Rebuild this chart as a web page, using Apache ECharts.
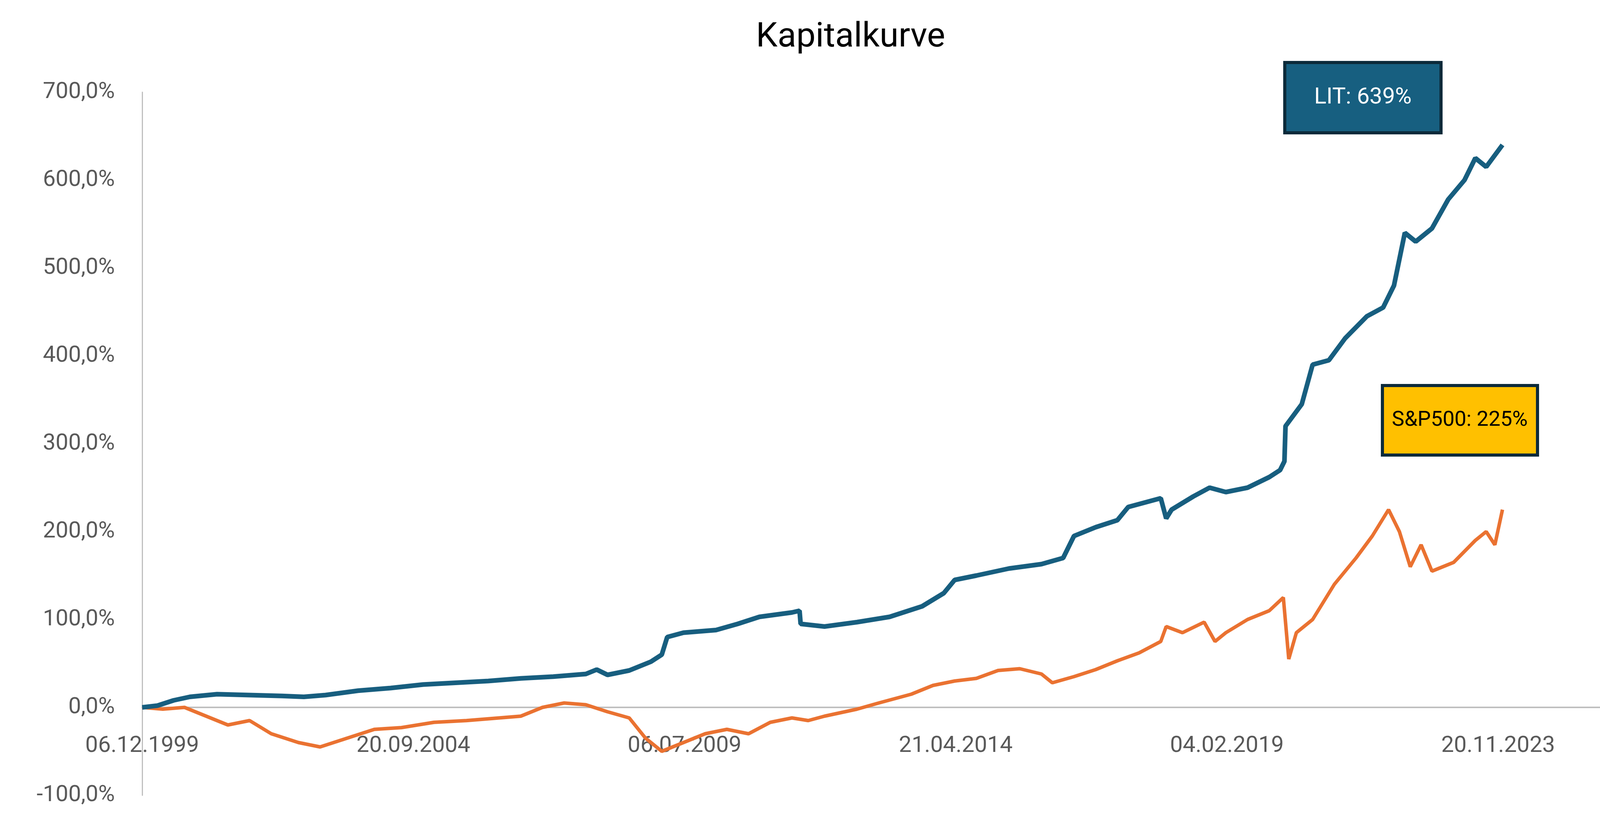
<!DOCTYPE html>
<html><head><meta charset="utf-8">
<script src="https://cdn.jsdelivr.net/npm/echarts@6/dist/echarts.min.js"></script>
<style>html,body{margin:0;padding:0;background:#fff}#c{width:4355px;height:2107px}</style>
</head><body><div id="c"></div>
<script>
// week index since 06.12.1999
const litWeeks = [0,14,29,44,69,99,129,149,169,199,229,259,289,319,349,379,409,419,429,449,469,479,484,499,529,549,569,599,606,607,629,659,689,719,739,749,769,799,829,849,859,879,899,909,939,944,949,969,984,999,1019,1039,1049,1053,1054,1069,1079,1094,1109,1129,1144,1154,1164,1174,1189,1204,1219,1229,1239,1254];
const litValues = [0,2,8,12,15,14,13,12,14,19,22,26,28,30,33,35,38,43,37,42,52,60,80,85,88,95,103,108,110,95,92,97,103,115,130,145,150,158,163,170,195,205,213,228,238,215,225,240,250,245,250,262,270,280,320,345,390,395,420,445,455,480,540,530,545,578,600,625,615,640];
const spxWeeks = [0,19,39,59,79,99,119,144,164,189,214,239,269,299,329,349,369,389,409,429,449,464,479,499,519,539,559,579,599,614,629,659,679,709,729,749,769,789,809,829,839,859,879,899,919,939,944,959,979,989,999,1019,1039,1052,1057,1064,1079,1099,1119,1134,1149,1159,1169,1179,1189,1209,1229,1239,1247,1254];
const spxValues = [0,-2,0,-10,-20,-15,-30,-40,-45,-35,-25,-23,-17,-15,-12,-10,0,5,3,-5,-12,-35,-50,-40,-30,-25,-30,-17,-12,-15,-10,-2,5,15,25,30,33,42,44,38,28,35,43,53,62,75,92,85,97,75,85,100,110,125,55,85,100,140,170,195,225,200,160,185,155,165,190,200,185,225];
const yTicks = [-100,0,100,200,300,400,500,600,700];
const startDate = [1999,12,6];

const pair = (w,v)=>w.map((x,i)=>[x,v[i]]);
function wkLabel(w){
  const d = new Date(Date.UTC(startDate[0],startDate[1]-1,startDate[2]) + w*7*86400000);
  const p=n=>String(n).padStart(2,'0');
  return p(d.getUTCDate())+'.'+p(d.getUTCMonth()+1)+'.'+d.getUTCFullYear();
}
const font = '"Roboto","DejaVu Sans Condensed",sans-serif';
const chart = echarts.init(document.getElementById('c'));
chart.setOption({
  animation:false,
  title:{text:'Kapitalkurve',left:'center',top:48,textStyle:{fontFamily:font,fontSize:88,fontWeight:'normal',color:'#000'}},
  grid:{left:364,right:231,top:236,bottom:71},
  xAxis:{type:'value',min:0,max:1354,interval:250,position:'bottom',offset:-225,
    axisLine:{onZero:false,lineStyle:{color:'#bfbfbf',width:4}},
    axisTick:{show:false},splitLine:{show:false},
    axisLabel:{showMaxLabel:false,margin:70,formatter:v=>wkLabel(v),fontFamily:font,fontSize:58,color:'#595959'}},
  yAxis:{type:'value',min:yTicks[0],max:yTicks[yTicks.length-1],interval:100,
    axisLine:{show:true,onZero:false,lineStyle:{color:'#bfbfbf',width:3}},
    axisTick:{show:false},splitLine:{show:false},
    axisLabel:{margin:70,formatter:v=>v.toFixed(1).replace('.',',')+'%',fontFamily:font,fontSize:58,color:'#595959'}},
  series:[
    {type:'line',data:pair(spxWeeks,spxValues),showSymbol:false,lineStyle:{color:'#ea7231',width:9},z:2},
    {type:'line',data:pair(litWeeks,litValues),showSymbol:false,lineStyle:{color:'#175e7f',width:12},z:3}
  ],
  graphic:[
    {type:'group',left:3285,top:156,children:[
      {type:'rect',shape:{x:0,y:0,width:400,height:180},style:{fill:'#175f80',stroke:'#0c2a3a',lineWidth:8}},
      {type:'text',x:200,y:90,style:{text:'LIT: 639%',fill:'#fff',font:'58px '+font,align:'center',verticalAlign:'middle'}}]},
    {type:'group',left:3535,top:983,children:[
      {type:'rect',shape:{x:0,y:0,width:397,height:178},style:{fill:'#ffc000',stroke:'#0c2a3a',lineWidth:8}},
      {type:'text',x:198,y:89,style:{text:'S&P500: 225%',fill:'#000',font:'54px '+font,align:'center',verticalAlign:'middle'}}]}
  ]
});
</script></body></html>
